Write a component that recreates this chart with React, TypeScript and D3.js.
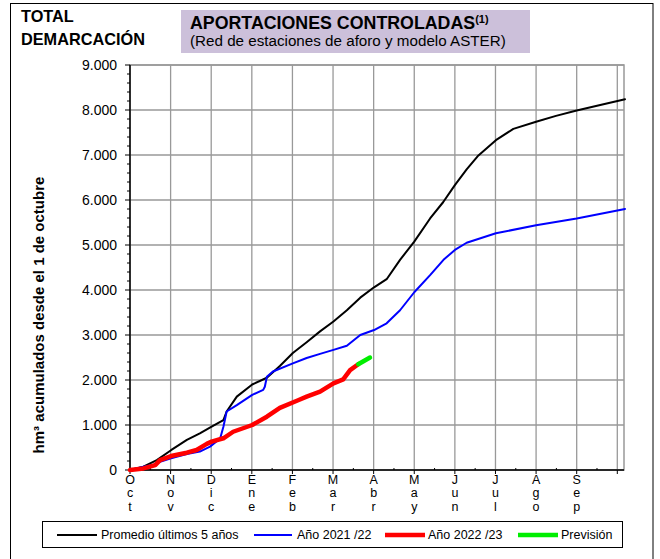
import React from "react";
import * as d3 from "d3";

// months of the hydrological year (Oct -> Sep)
const meses = ["Oct", "Nov", "Dic", "Ene", "Feb", "Mar", "Abr", "May", "Jun", "Jul", "Ago", "Sep"];
const yTicks = [0, 1000, 2000, 3000, 4000, 5000, 6000, 7000, 8000, 9000];

// position in months since 1 Oct, accumulated hm3
const promedioMes = [0, 0.33, 0.66, 1.01, 1.4, 1.72, 2.01, 2.3, 2.38, 2.63, 3.01, 3.37, 3.69, 4.01, 4.35, 4.68, 5.01, 5.34, 5.67, 6.01, 6.32, 6.65, 7.0, 7.39, 7.71, 8.0, 8.29, 8.58, 9.01, 9.44, 10.0, 10.49, 11.0, 11.58, 12.19];
const promedioHm3 = [0, 75, 220, 440, 670, 815, 965, 1110, 1300, 1630, 1900, 2050, 2310, 2600, 2840, 3080, 3300, 3550, 3830, 4060, 4240, 4670, 5075, 5590, 5950, 6330, 6680, 6990, 7330, 7580, 7740, 7870, 7990, 8110, 8240];

const a2122Mes = [0, 0.33, 0.62, 0.74, 1.01, 1.4, 1.72, 1.97, 2.22, 2.3, 2.38, 2.63, 3.01, 3.28, 3.32, 3.37, 3.52, 4.01, 4.35, 4.68, 5.01, 5.34, 5.67, 6.01, 6.32, 6.65, 7.0, 7.39, 7.72, 8.0, 8.29, 9.01, 10.0, 11.0, 12.19];
const a2122Hm3 = [0, 75, 125, 185, 260, 355, 410, 520, 700, 960, 1300, 1440, 1670, 1780, 1850, 2070, 2190, 2370, 2490, 2580, 2670, 2760, 3000, 3110, 3260, 3550, 3950, 4330, 4670, 4890, 5050, 5260, 5440, 5590, 5800];

const a2223Mes = [0, 0.33, 0.62, 0.74, 1.01, 1.4, 1.64, 1.89, 2.01, 2.3, 2.54, 3.01, 3.37, 3.69, 4.14, 4.35, 4.68, 5.01, 5.25, 5.42, 5.62];
const a2223Hm3 = [0, 35, 110, 220, 310, 385, 445, 580, 630, 705, 850, 1000, 1185, 1380, 1550, 1630, 1740, 1925, 2015, 2220, 2350];

const previsionMes = [5.62, 5.91];
const previsionHm3 = [2350, 2500];

const FONT = "'Liberation Sans', Arial, sans-serif";

const fmt = d3.formatLocale({ decimal: ",", thousands: ".", grouping: [3], currency: ["", ""] }).format(",");

export default function App() {
  const left = 130, right = 624, top = 65, bottom = 470;
  const x = d3.scaleLinear().domain([0, 12]).range([left, 617.3]);
  const y = d3.scaleLinear().domain([0, 9000]).range([bottom, top]);

  const line = d3
    .line<[number, number]>()
    .x((d) => x(d[0]))
    .y((d) => y(d[1]));

  const pts = (m: number[], v: number[]) => m.map((mm, i) => [mm, v[i]] as [number, number]);

  const series = [
    { name: "Promedio últimos 5 años", color: "#000000", w: 2, d: pts(promedioMes, promedioHm3) },
    { name: "Año 2021 /22", color: "#0000ff", w: 2, d: pts(a2122Mes, a2122Hm3) },
    { name: "Año 2022 /23", color: "#ff0000", w: 4.5, d: pts(a2223Mes, a2223Hm3) },
    { name: "Previsión", color: "#00ee00", w: 4.5, d: pts(previsionMes, previsionHm3) },
  ];

  const legendPos = [
    { x1: 57, x2: 97, tx: 101 },
    { x1: 254, x2: 292, tx: 297 },
    { x1: 385, x2: 425, tx: 428 },
    { x1: 518, x2: 558, tx: 561 },
  ];

  const minorY = d3.range(200, 9000, 200).filter((v) => v % 1000 !== 0);
  const minorX = d3.range(0.5, 12, 1);
  const gridX = d3.range(1, 13, 1);

  return (
    <svg width={660} height={559} style={{ position: "absolute", left: 0, top: 0, background: "#fff" }} fontFamily={FONT}>
      <rect x={10.5} y={3.5} width={642.5} height={560} fill="none" stroke="#000" strokeWidth={1} />

      {/* header */}
      <text x={21} y={22} fontSize={16.3} fontWeight="bold">TOTAL</text>
      <text x={21} y={45} fontSize={16.3} fontWeight="bold">DEMARCACIÓN</text>
      <rect x={181} y={10} width={349} height={43} fill="#ccc0da" />
      <text x={190} y={29} fontSize={17.8} fontWeight="bold">
        APORTACIONES CONTROLADAS
        <tspan fontSize={11} dy={-6}>(1)</tspan>
      </text>
      <text x={190} y={46} fontSize={15.2}>(Red de estaciones de aforo y modelo ASTER)</text>

      {/* grid */}
      {yTicks.map((v) => (
        <line key={"gy" + v} x1={left} x2={right} y1={y(v)} y2={y(v)} stroke="#999" strokeWidth={1.3} />
      ))}
      {gridX.map((m) => (
        <line key={"gx" + m} x1={x(m)} x2={x(m)} y1={top} y2={bottom} stroke="#999" strokeWidth={1.3} />
      ))}
      <rect x={left} y={top} width={right - left} height={bottom - top} fill="none" stroke="#999" strokeWidth={1.5} />

      {/* y axis */}
      <line x1={left} x2={left} y1={top} y2={bottom} stroke="#000" strokeWidth={1.5} />
      {yTicks.map((v) => (
        <g key={"yt" + v}>
          <line x1={left - 5} x2={left} y1={y(v)} y2={y(v)} stroke="#000" />
          <text x={117} y={y(v)} dy="0.35em" textAnchor="end" fontSize={14}>
            {fmt(v)}
          </text>
        </g>
      ))}
      {minorY.map((v) => (
        <line key={"my" + v} x1={left - 3} x2={left} y1={y(v)} y2={y(v)} stroke="#000" />
      ))}

      {/* x axis */}
      <line x1={left} x2={right} y1={bottom} y2={bottom} stroke="#000" strokeWidth={1.5} />
      {d3.range(0, 13).map((m) => (
        <line key={"xt" + m} x1={x(m)} x2={x(m)} y1={bottom} y2={bottom + 4} stroke="#000" />
      ))}
      {minorX.map((m) => (
        <line key={"mx" + m} x1={x(m)} x2={x(m)} y1={bottom - 2} y2={bottom} stroke="#000" />
      ))}
      {meses.map((mes, i) => (
        <g key={mes}>
          {mes.split("").map((c, j) => (
            <text key={j} x={x(i)} y={484 + j * 13.3} textAnchor="middle" fontSize={12.5}>
              {c}
            </text>
          ))}
        </g>
      ))}

      <text
        transform="translate(44,315) rotate(-90)"
        textAnchor="middle"
        fontSize={15}
        fontWeight="bold"
      >
        hm³ acumulados desde el 1 de octubre
      </text>

      {/* series */}
      {series.map((s) => (
        <path key={s.name} d={line(s.d) || ""} fill="none" stroke={s.color} strokeWidth={s.w} strokeLinejoin="round" strokeLinecap="round" />
      ))}

      {/* legend */}
      <rect x={42.5} y={521.5} width={580} height={26} fill="#fff" stroke="#000" />
      {series.map((s, i) => (
        <g key={"lg" + s.name}>
          <line x1={legendPos[i].x1} x2={legendPos[i].x2} y1={535} y2={535} stroke={s.color} strokeWidth={s.w === 2 ? 2 : 4.5} />
          <text x={legendPos[i].tx} y={535} dy="0.35em" fontSize={12.5}>
            {s.name}
          </text>
        </g>
      ))}
    </svg>
  );
}
